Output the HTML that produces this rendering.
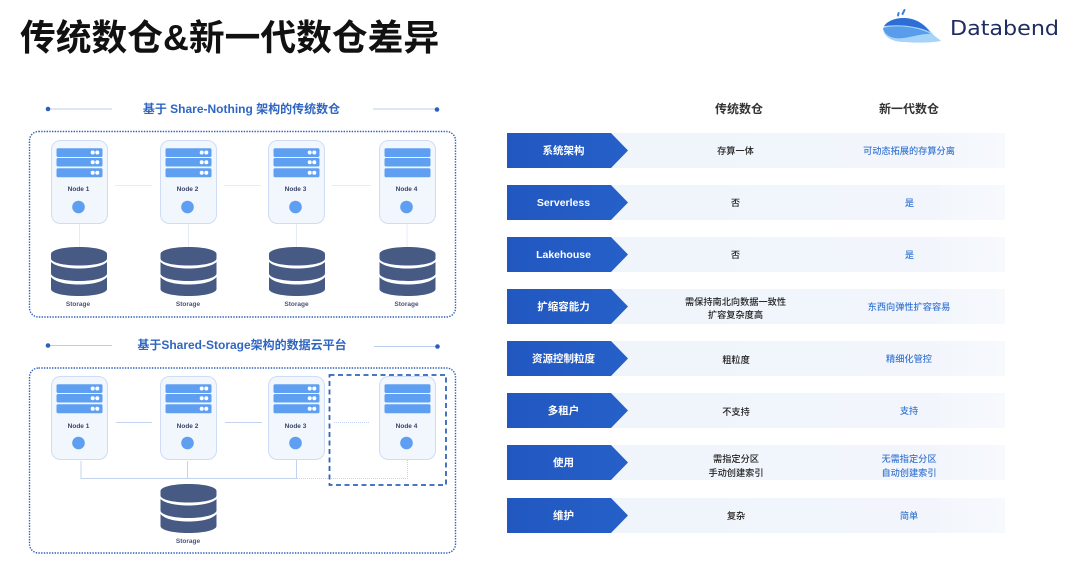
<!DOCTYPE html>
<html><head><meta charset="utf-8">
<style>
html,body{margin:0;padding:0;background:#fff;width:1080px;height:563px;overflow:hidden}
svg{display:block}
text{font-family:"Liberation Sans","Noto Sans CJK SC",sans-serif}
.t{font-weight:700;fill:#2f66c2;font-size:12px;text-anchor:middle}
.n{font-weight:700;fill:#3a4468;font-size:6.5px;text-anchor:middle}
.s{font-weight:700;fill:#4a5578;font-size:6.5px;text-anchor:middle}
.h{font-weight:700;fill:#333;font-size:12px;text-anchor:middle}
.a{font-weight:700;fill:#fff;font-size:10.5px;text-anchor:middle}
.b{font-weight:500;fill:#222;font-size:9.2px;text-anchor:middle}
.c{font-weight:500;fill:#3a78d2;font-size:9.2px;text-anchor:middle}
</style></head><body>
<svg width="1080" height="563" viewBox="0 0 1080 563" xmlns="http://www.w3.org/2000/svg">
<defs>
<linearGradient id="rowg" x1="0" x2="1" y1="0" y2="0"><stop offset="0" stop-color="#eff4fb"/><stop offset=".85" stop-color="#f2f6fc"/><stop offset="1" stop-color="#f7f9fd"/></linearGradient>
<linearGradient id="argr" x1="0" x2="1" y1="0" y2="0"><stop offset="0" stop-color="#2257c0"/><stop offset="1" stop-color="#2560c8"/></linearGradient>
<g id="node">
<rect x="0.5" y="0.5" width="56" height="83" rx="9" fill="#f2f7fe" stroke="#cfdcf5"/>
<rect x="5.500" y="8.300" width="46" height="8.700" rx="1.500" fill="#5f9ff2"/>
<rect x="5.500" y="18" width="46" height="8.500" rx="1.500" fill="#5f9ff2"/>
<rect x="5.500" y="28.200" width="46" height="9" rx="1.500" fill="#5f9ff2"/>
<circle cx="27.500" cy="67" r="6.300" fill="#5f9ff2"/>
</g>
<g id="dots" fill="#fff">
<circle cx="41.700" cy="12.500" r="2"/><circle cx="46.300" cy="12.500" r="2"/>
<circle cx="41.700" cy="22.300" r="2"/><circle cx="46.300" cy="22.300" r="2"/>
<circle cx="41.700" cy="32.700" r="2"/><circle cx="46.300" cy="32.700" r="2"/>
</g>
<g id="db" fill="#475a84">
<path d="M0 7C0 3 12 0 28 0S56 3 56 7V11.500C56 15.500 44 18.500 28 18.500S0 15.500 0 11.500z"/>
<path d="M0 15C4 19 15 21.500 28 21.500S52 19 56 15V26.500C56 30.500 44 34 28 34S0 30.500 0 26.500z"/>
<path d="M0 30C4 35 15 37.500 28 37.500S52 35 56 30V42C56 46 44 49 28 49S0 46 0 42z"/>
</g>
<g id="arrow"><path d="M0 0H104L121 17.500L104 35H0z" fill="url(#argr)"/></g>
</defs>

<rect width="1080" height="563" fill="#fff"/>

<text x="20" y="50" font-size="35.750" font-weight="700" fill="#111">传统数仓&amp;新一代数仓差异</text>

<!-- logo -->
<path d="M883 29C885 22 895 18 904 18C918 18 926 26 932 33C935 37 938 38 941 41C930 43 915 43 905 42C892 42 884 37 883 29z" fill="#a6d4f8"/>
<path d="M883 28C900 24 920 28 931 34C920 33 905 40 895 38C888 37 884 33 883 28z" fill="#5a9cec"/>
<path d="M884 26C888 20 897 18 904 18C916 18 925 25 930 32C918 26 900 24 884 26z" fill="#2c6ed6"/>
<path d="M898 15.500l.6-2.500M902.500 14l2-4" stroke="#3a7fdc" stroke-width="2" stroke-linecap="round"/>
<text x="950" y="35" font-size="20" fill="#1e2c60" textLength="109" lengthAdjust="spacingAndGlyphs" style="font-family:'DejaVu Sans',sans-serif">Databend</text>

<!-- section headers -->
<g>
<rect x="47" y="108" width="65" height="2" fill="#dfe7f6"/><circle cx="48" cy="109" r="2.300" fill="#2a5fc0"/>
<rect x="373" y="108" width="65" height="2" fill="#dfe7f6"/><circle cx="437" cy="109.500" r="2.300" fill="#2a5fc0"/>
<text class="t" x="241.500" y="113">基于 Share-Nothing 架构的传统数仓</text>
<rect x="47" y="345" width="65" height="1" fill="#b9cdee"/><circle cx="48" cy="345.500" r="2.300" fill="#2a5fc0"/>
<rect x="374" y="346" width="65" height="1" fill="#b9cdee"/><circle cx="437.500" cy="346.500" r="2.300" fill="#2a5fc0"/>
<text class="t" x="242" y="349">基于Shared-Storage架构的数据云平台</text>
</g>

<!-- frames -->
<rect x="29.500" y="131.500" width="426" height="185.500" rx="9" fill="none" stroke="#2f5fb8" stroke-width="1.400" stroke-dasharray="1.400 1.300"/>
<rect x="29.500" y="368" width="426" height="185" rx="9" fill="none" stroke="#2f5fb8" stroke-width="1.400" stroke-dasharray="1.400 1.300"/>

<!-- upper connectors -->
<g stroke="#e6ecf6" stroke-width="1" fill="none">
<path d="M115 185.500H152M224 185.500H261M332 185.500H371"/>
<path d="M79.500 224V247M188.500 224V247M296.500 224V247M407 224V247"/>
</g>
<use href="#node" x="51" y="140"/><use href="#dots" x="51" y="140"/>
<use href="#node" x="160" y="140"/><use href="#dots" x="160" y="140"/>
<use href="#node" x="268" y="140"/><use href="#dots" x="268" y="140"/>
<use href="#node" x="379" y="140"/>
<text class="n" x="78.500" y="191">Node 1</text>
<text class="n" x="187.500" y="191">Node 2</text>
<text class="n" x="295.500" y="191">Node 3</text>
<text class="n" x="406.500" y="191">Node 4</text>
<use href="#db" x="51" y="247"/><use href="#db" x="160.500" y="247"/><use href="#db" x="269" y="247"/><use href="#db" x="379.500" y="247"/>
<text class="s" x="78" y="306">Storage</text>
<text class="s" x="188" y="306">Storage</text>
<text class="s" x="296.500" y="306">Storage</text>
<text class="s" x="406.500" y="306">Storage</text>

<!-- lower connectors -->
<g stroke="#c5d4ee" stroke-width="1" fill="none">
<path d="M116 422.500H152M225 422.500H262"/>
<path d="M81 461V478.500H297M187.500 461V478.500M296.500 460V478.500"/>
</g>
<g stroke="#c5d4ee" stroke-width="1" fill="none" stroke-dasharray="1 1">
<path d="M297 478.500H407.500V460M334 422.500H370"/>
</g>
<use href="#node" x="51" y="376"/><use href="#dots" x="51" y="376"/>
<use href="#node" x="160" y="376"/><use href="#dots" x="160" y="376"/>
<use href="#node" x="268" y="376"/><use href="#dots" x="268" y="376"/>
<use href="#node" x="379" y="376"/>
<text class="n" x="78.500" y="428">Node 1</text>
<text class="n" x="187.500" y="428">Node 2</text>
<text class="n" x="295.500" y="428">Node 3</text>
<text class="n" x="406.500" y="428">Node 4</text>
<rect x="329.500" y="375" width="116.500" height="110" fill="none" stroke="#2f65b8" stroke-width="1.800" stroke-dasharray="5 3.500"/>
<use href="#db" x="160.500" y="484"/>
<text class="s" x="188" y="543">Storage</text>

<!-- table -->
<text class="h" x="739" y="113">传统数仓</text>
<text class="h" x="909" y="113">新一代数仓</text>
<g fill="url(#rowg)">
<rect x="507" y="133" width="498" height="35"/>
<rect x="507" y="185" width="498" height="35"/>
<rect x="507" y="237" width="498" height="35"/>
<rect x="507" y="289" width="498" height="35"/>
<rect x="507" y="341" width="498" height="35"/>
<rect x="507" y="393" width="498" height="35"/>
<rect x="507" y="445" width="498" height="35"/>
<rect x="507" y="498" width="498" height="35"/>
</g>
<use href="#arrow" x="507" y="133"/><use href="#arrow" x="507" y="185"/><use href="#arrow" x="507" y="237"/><use href="#arrow" x="507" y="289"/>
<use href="#arrow" x="507" y="341"/><use href="#arrow" x="507" y="393"/><use href="#arrow" x="507" y="445"/><use href="#arrow" x="507" y="498"/>

<text class="a" x="563.500" y="154">系统架构</text>
<text class="a" x="563.500" y="206">Serverless</text>
<text class="a" x="563.500" y="258">Lakehouse</text>
<text class="a" x="563.500" y="310">扩缩容能力</text>
<text class="a" x="563.500" y="362">资源控制粒度</text>
<text class="a" x="563.500" y="414">多租户</text>
<text class="a" x="563.500" y="466">使用</text>
<text class="a" x="563.500" y="519">维护</text>

<text class="b" x="735.500" y="154">存算一体</text>
<text class="b" x="735.500" y="206">否</text>
<text class="b" x="735.500" y="258">否</text>
<text class="b" x="735.500" y="305">需保持南北向数据一致性</text>
<text class="b" x="735.500" y="318">扩容复杂度高</text>
<text class="b" x="736" y="363">粗粒度</text>
<text class="b" x="736" y="415">不支持</text>
<text class="b" x="736" y="462">需指定分区</text>
<text class="b" x="736" y="476">手动创建索引</text>
<text class="b" x="736" y="519">复杂</text>

<text class="c" x="909" y="154">可动态拓展的存算分离</text>
<text class="c" x="909.500" y="206">是</text>
<text class="c" x="909.500" y="258">是</text>
<text class="c" x="909" y="310">东西向弹性扩容容易</text>
<text class="c" x="909" y="362">精细化管控</text>
<text class="c" x="909" y="414">支持</text>
<text class="c" x="909" y="462">无需指定分区</text>
<text class="c" x="909" y="476">自动创建索引</text>
<text class="c" x="909" y="519">简单</text>
</svg>
</body></html>
